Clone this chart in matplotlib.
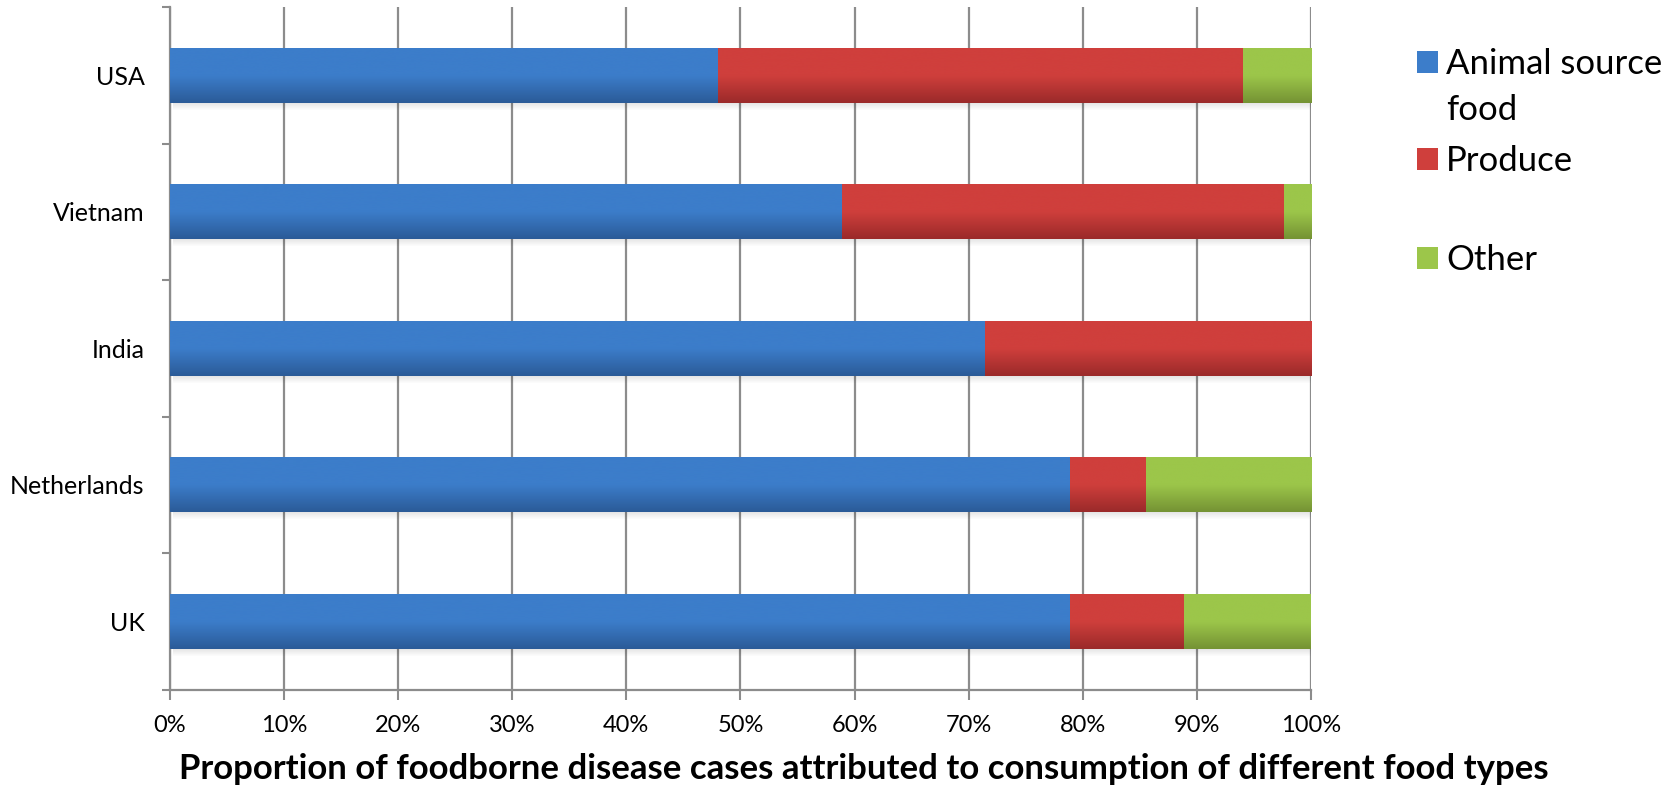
import numpy as np
import matplotlib
matplotlib.use("Agg")
import matplotlib.pyplot as plt
from matplotlib.colors import LinearSegmentedColormap
from matplotlib.patches import Rectangle

plt.rcParams['font.family'] = ['Lato', 'DejaVu Sans']

# Share of cases (%) by food type, listed top to bottom
countries = ["USA", "Vietnam", "India", "Netherlands", "UK"]
animal = [48.0, 58.9, 71.4, 78.9, 78.9]
produce = [46.0, 38.7, 28.6, 6.6, 10.0]
other = [6.0, 2.4, 0.0, 14.5, 11.1]

series = [
    ("Animal source\nfood", animal, "#3c7dca", "#2b5b98"),
    ("Produce", produce, "#cf3f3c", "#9b2a2a"),
    ("Other", other, "#9cc64a", "#759334"),
]
xticks = np.arange(0, 101, 10)
xticklabels = [f"{t}%" for t in xticks]

fig = plt.figure(figsize=(16.74, 7.9), dpi=100)
ax = fig.add_axes([0.1014, 0.1271, 0.6818, 0.864])

n = len(countries)
ypos = np.arange(n)[::-1]
bar_h = 0.4
grad = np.linspace(0, 1, 64).reshape(-1, 1)
px = 1.0 / 136.4  # one pixel in y data units

left = np.zeros(n)
for label, vals, light, dark in series:
    vals = np.array(vals)
    bars = ax.barh(ypos, vals, left=left, height=bar_h, color=light,
                   edgecolor="none", zorder=3, label=label)
    cmap = LinearSegmentedColormap.from_list(label, [dark, light, light])
    for b in bars:
        x0, y0 = b.get_x(), b.get_y()
        w, h = b.get_width(), b.get_height()
        if w <= 0:
            continue
        ax.imshow(grad, extent=[x0, x0 + w, y0, y0 + h], origin="lower",
                  cmap=cmap, aspect="auto", zorder=4, interpolation="bicubic")
    left = left + vals

# soft drop shadow under each stacked bar
for y, total in zip(ypos, left):
    for k in range(1, 8):
        ax.add_patch(Rectangle((0.3, y - bar_h / 2 - k * px), total,
                               px * 1.0, color="black",
                               alpha=0.11 * (1 - k / 8), lw=0, zorder=2))

ax.set_xlim(0, 100)
ax.set_ylim(-0.5, n - 0.5)

ax.set_xticks(xticks)
ax.set_xticklabels(xticklabels, fontsize=17)
ax.set_yticks(ypos)
ax.set_yticklabels(countries, fontsize=18)
ax.set_yticks(np.arange(-0.5, n, 1.0), minor=True)

grid_col = "#8c8c8c"
ax.grid(axis="x", color=grid_col, lw=1.6, zorder=1)
ax.tick_params(axis="y", which="major", length=0, pad=18)
ax.tick_params(axis="y", which="minor", length=6, width=1.5, color=grid_col)
ax.tick_params(axis="x", length=7, width=1.5, color=grid_col, pad=11)

for s in ["top", "right"]:
    ax.spines[s].set_visible(False)
for s in ["left", "bottom"]:
    ax.spines[s].set_color(grid_col)
    ax.spines[s].set_linewidth(1.6)

fig.text(0.516, 0.027, "Proportion of foodborne disease cases attributed to "
         "consumption of different food types", ha="center", va="center",
         fontsize=25, fontweight="bold")

# legend drawn at the right
W, H = 1674, 790
leg_y = [62, 159, 258]
for (label, vals, light, dark), yc in zip(series, leg_y):
    sq = 21
    fig.add_artist(Rectangle((1417 / W, (H - yc - sq / 2) / H), sq / W, sq / H,
                             transform=fig.transFigure, color=light, lw=0))
    lines = label.split("\n")
    fig.text(1446 / W, (H - yc - 2) / H, lines[0], ha="left", va="center",
             fontsize=25)
    if len(lines) > 1:
        fig.text(1446 / W, (H - yc - 48) / H, lines[1], ha="left",
                 va="center", fontsize=25)

fig.savefig("out.png", dpi=100)
